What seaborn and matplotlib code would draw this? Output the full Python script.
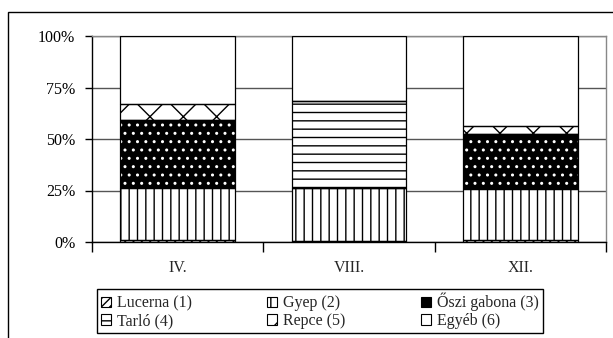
import numpy as np
import pandas as pd
import matplotlib
matplotlib.use('Agg')
import matplotlib.pyplot as plt
import seaborn as sns
from matplotlib.patches import Rectangle, Patch

months = ['IV.', 'VIII.', 'XII.']
series_names = ['Lucerna (1)', 'Gyep (2)', 'Őszi gabona (3)', 'Tarló (4)', 'Repce (5)', 'Egyéb (6)']
lucerna = [1, 0.5, 1]
gyep = [25, 25.5, 24.5]
oszi = [33, 0, 27]
tarlo = [0, 42.5, 0]
repce = [8, 0, 4]
egyeb = [33, 31.5, 43.5]
y_ticks = [0, 25, 50, 75, 100]
y_tick_labels = ['0%', '25%', '50%', '75%', '100%']

sns.set_style('white')
plt.rcParams['font.family'] = ['Liberation Serif', 'DejaVu Serif']
plt.rcParams['hatch.linewidth'] = 1.0

W, H = 613, 338
fig = plt.figure(figsize=(W / 100, H / 100), dpi=100)
ax = fig.add_axes([92 / W, 1 - 242 / H, (606 - 92) / W, (242 - 36) / H])

styles = [
    dict(face='white', hatch='////', hcolor='black'),
    dict(face='white', hatch='||', hcolor='black'),
    dict(face='black', hatch='..', hcolor='white'),
    dict(face='white', hatch='--', hcolor='black'),
    dict(face='white', hatch='x', hcolor='black'),
    dict(face='white', hatch='', hcolor='black'),
]
layers = [lucerna, gyep, oszi, tarlo, repce, egyeb]

bottom = np.zeros(len(months))
all_patches = []
for name, vals, st in zip(series_names, layers, styles):
    df = pd.DataFrame({'month': months, 'value': vals})
    n_before = len(ax.patches)
    sns.barplot(data=df, x='month', y='value', order=months, color=st['face'],
                saturation=1, width=0.67, errorbar=None, bottom=bottom.copy(),
                ax=ax, linewidth=0)
    new = ax.patches[n_before:]
    for p in new:
        p.set_facecolor(st['face'])
        p.set_edgecolor(st['hcolor'])
        p.set_linewidth(0)
        p.set_hatch(st['hatch'])
        all_patches.append(p)
    bottom += np.array(vals)

for p in all_patches:
    ax.add_patch(Rectangle(p.get_xy(), p.get_width(), p.get_height(),
                           fill=False, edgecolor='black', linewidth=0.9, zorder=3))

ax.set_ylim(0, 100)
ax.set_xlim(-0.5, 2.5)
ax.set_yticks(y_ticks, y_tick_labels)
ax.set_xticks([0, 1, 2], months)
ax.set_xticks([-0.5, 0.5, 1.5, 2.5], minor=True)
ax.set_xlabel('')
ax.set_ylabel('')
ax.yaxis.grid(True, color='#555555', linewidth=1)
ax.xaxis.grid(False)
ax.set_axisbelow(True)
for s in ['left', 'bottom']:
    ax.spines[s].set_color('black')
    ax.spines[s].set_linewidth(1)
for s in ['right', 'top']:
    ax.spines[s].set_color('#888888')
    ax.spines[s].set_linewidth(1)
ax.tick_params(axis='y', left=True, length=5, width=1, direction='out', pad=7,
               labelsize=11.5, colors='black')
ax.tick_params(axis='x', which='major', bottom=True, length=0, pad=13, labelsize=11.5)
ax.tick_params(axis='x', which='minor', bottom=True, length=7, width=1, direction='out',
               color='black')

handles = []
for st in styles:
    handles.append(Patch(facecolor=st['face'], edgecolor='black', hatch=st['hatch'],
                         linewidth=0.8))
order = [0, 3, 1, 4, 2, 5]
leg = fig.legend([handles[i] for i in order], [series_names[i] for i in order],
                 ncol=3, loc='upper left',
                 bbox_to_anchor=(97 / W, 1 - 330 / H, (543 - 97) / W, (330 - 289) / H),
                 mode='expand', borderaxespad=0, fontsize=11.5, frameon=True,
                 fancybox=False, edgecolor='black', framealpha=1,
                 handlelength=0.6, handleheight=0.6, handletextpad=0.4,
                 labelspacing=0.1, borderpad=0.25, columnspacing=1.0)
leg.get_frame().set_linewidth(1)

fig.add_artist(Rectangle((8 / W, -0.05), 1.0, 1 - 12 / H + 0.05, transform=fig.transFigure,
                         fill=False, edgecolor='black', linewidth=1))

fig.savefig('out.png', dpi=100)
